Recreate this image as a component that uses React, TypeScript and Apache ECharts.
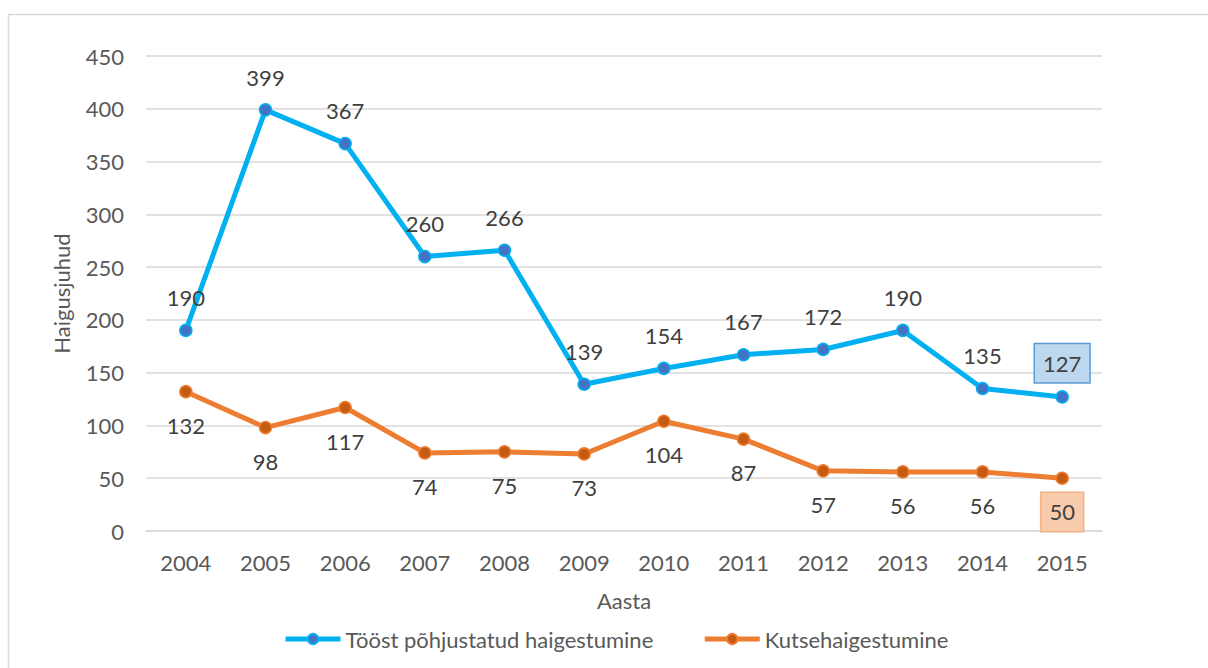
import React, { useEffect, useRef } from "react";
import * as echarts from "echarts";

const years = ["2004", "2005", "2006", "2007", "2008", "2009", "2010", "2011", "2012", "2013", "2014", "2015"];
const workRelated = [190, 399, 367, 260, 266, 139, 154, 167, 172, 190, 135, 127];
const occupational = [132, 98, 117, 74, 75, 73, 104, 87, 57, 56, 56, 50];
const seriesNames = ["Tööst põhjustatud haigestumine", "Kutsehaigestumine"];

const FONT = "Lato";
const FS = 22;
const TXT = "#595959";

export default function App() {
  const ref = useRef<HTMLDivElement>(null);
  useEffect(() => {
    if (!ref.current) return;
    const chart = echarts.init(ref.current, undefined, { renderer: "svg" });
    const lastIdx = years.length - 1;
    const boxLabel = (bg: string, border: string) => ({
      backgroundColor: bg,
      borderColor: border,
      borderWidth: 1.5,
      padding: [8, 8, 8, 8],
      distance: 8,
    });
    const blueData = workRelated.map((v, i) =>
      i === lastIdx ? { value: v, label: boxLabel("#BDD7EE", "#5B9BD5") } : v
    );
    const orangeData = occupational.map((v, i) =>
      i === lastIdx ? { value: v, label: boxLabel("#F8CBAD", "#F4B183") } : v
    );
    chart.setOption({
      animation: false,
      textStyle: { fontFamily: FONT },
      graphic: [
        {
          type: "rect",
          shape: { x: 8.5, y: 14.5, width: 1220, height: 700 },
          style: { fill: "none", stroke: "#D9D9D9", lineWidth: 1.5 },
          silent: true,
        },
      ],
      grid: { left: 146, right: 106, top: 56, bottom: 137 },
      legend: {
        data: seriesNames,
        top: 623,
        left: 278,
        itemWidth: 55,
        itemHeight: 13,
        itemGap: 49,
        lineStyle: { width: 5 },
        textStyle: { color: TXT, fontSize: FS, fontFamily: FONT },
      },
      xAxis: {
        type: "category",
        data: years,
        boundaryGap: true,
        name: "Aasta",
        nameLocation: "middle",
        nameGap: 58,
        nameTextStyle: { color: TXT, fontSize: FS, fontFamily: FONT },
        axisLine: { lineStyle: { color: "#D9D9D9", width: 1.5 } },
        axisTick: { show: false },
        axisLabel: { color: TXT, fontSize: FS, margin: 20, fontFamily: FONT },
      },
      yAxis: {
        type: "value",
        min: 0,
        max: 450,
        interval: 50,
        name: "Haigusjuhud",
        nameLocation: "middle",
        nameGap: 74,
        nameTextStyle: { color: TXT, fontSize: FS, fontFamily: FONT },
        axisLine: { show: false },
        axisTick: { show: false },
        axisLabel: { color: TXT, fontSize: FS, margin: 22, fontFamily: FONT },
        splitLine: { lineStyle: { color: "#D9D9D9", width: 1.5 } },
      },
      series: [
        {
          name: seriesNames[0],
          type: "line",
          data: blueData,
          symbol: "circle",
          symbolSize: 12,
          lineStyle: { color: "#00B0F0", width: 5 },
          itemStyle: { color: "#4472C4", borderColor: "#00B0F0", borderWidth: 1.5 },
          label: {
            show: true,
            position: "top",
            distance: 15,
            color: "#404040",
            fontSize: FS,
            fontFamily: FONT,
          },
          z: 3,
        },
        {
          name: seriesNames[1],
          type: "line",
          data: orangeData,
          symbol: "circle",
          symbolSize: 12,
          lineStyle: { color: "#ED7D31", width: 5 },
          itemStyle: { color: "#C55A11", borderColor: "#ED7D31", borderWidth: 1.5 },
          label: {
            show: true,
            position: "bottom",
            distance: 16,
            color: "#404040",
            fontSize: FS,
            fontFamily: FONT,
          },
          z: 2,
        },
      ],
    });
    return () => chart.dispose();
  }, []);
  return (
    <div
      ref={ref}
      style={{ position: "absolute", left: 0, top: 0, width: 1208, height: 668, background: "#fff" }}
    />
  );
}
